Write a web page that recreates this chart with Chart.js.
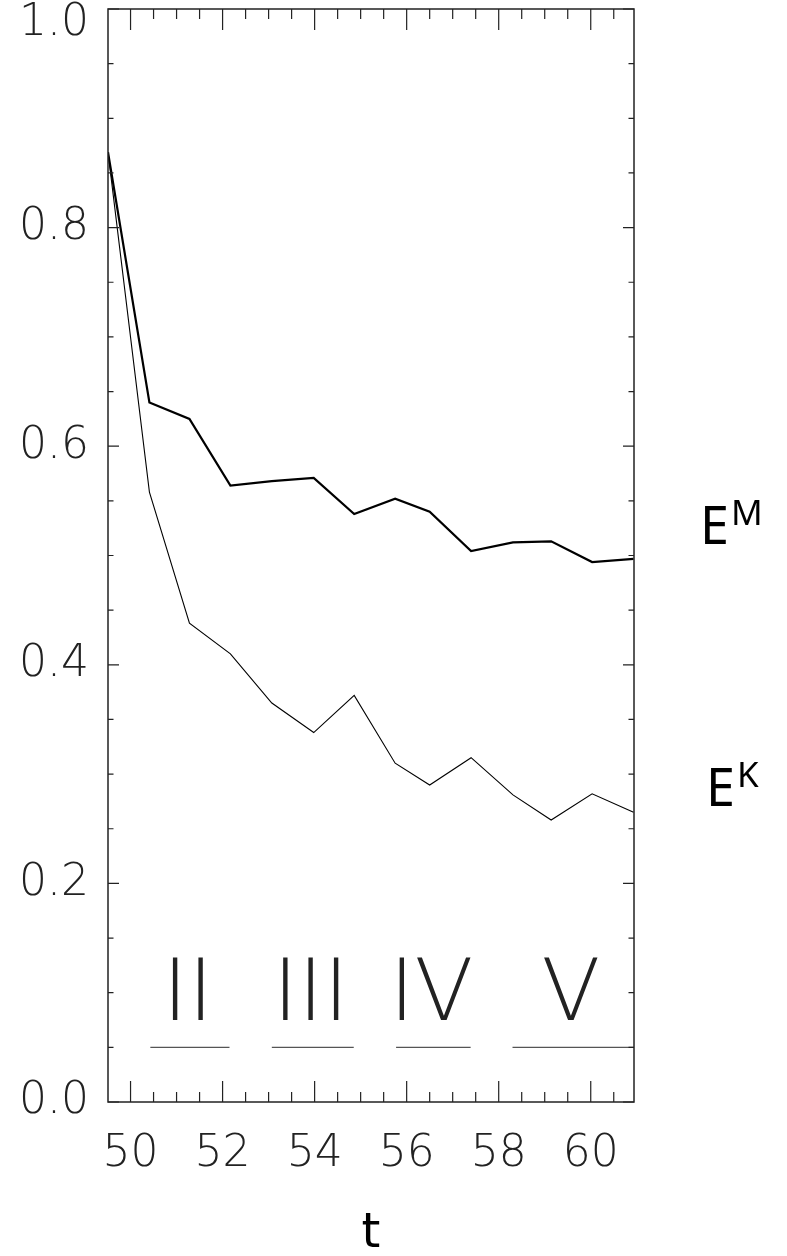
<!DOCTYPE html>
<html>
<head>
<meta charset="utf-8">
<script src="https://cdn.jsdelivr.net/npm/chart.js@4.4.1/dist/chart.umd.min.js"></script>
<style>
  html, body { margin: 0; padding: 0; background: #fff; }
  canvas { display: block; }
</style>
</head>
<body>
<canvas id="chart" width="787" height="1256"></canvas>
<script>
/* E^M / E^K versus t, stages II..V marked along the bottom. */
var T  = [49.51, 50.41, 51.28, 52.17, 53.07, 53.98, 54.86, 55.75, 56.50, 57.40, 58.31, 59.14, 60.03, 60.93];
var EM = [0.869, 0.640, 0.625, 0.564, 0.568, 0.571, 0.538, 0.552, 0.540, 0.504, 0.512, 0.513, 0.494, 0.497];
var EK = [0.869, 0.558, 0.438, 0.410, 0.365, 0.338, 0.372, 0.310, 0.290, 0.315, 0.281, 0.258, 0.282, 0.265];

var STAGES     = ["II", "III", "IV", "V"];
var STAGE_FROM = [50.43, 53.07, 55.77, 58.30];
var STAGE_TO   = [52.15, 54.85, 57.39, 60.93];
var STAGE_Y    = 0.05;

var X_TICKS = [50, 52, 54, 56, 58, 60];
var Y_TICKS = [0, 0.2, 0.4, 0.6, 0.8, 1.0];
var X_MINOR = 0.5, Y_MINOR = 0.05;
var X_MIN = 49.51, X_MAX = 60.94;

var INK = "#222";
var THIN = '"DejaVu Sans ExtraLight", "DejaVu Sans", sans-serif';

function pts(ys) {
  return T.map(function (t, i) { return { x: t, y: ys[i] }; });
}

var datasets = [
  { label: "EM", data: pts(EM), borderColor: "#000", borderWidth: 2.2 },
  { label: "EK", data: pts(EK), borderColor: "#000", borderWidth: 1.1 }
].concat(STAGES.map(function (s, i) {
  return {
    label: s, data: [{ x: STAGE_FROM[i], y: STAGE_Y }, { x: STAGE_TO[i], y: STAGE_Y }],
    borderColor: "#555", borderWidth: 1.4
  };
}));
datasets.forEach(function (d) { d.showLine = true; d.pointRadius = 0; d.fill = false; });

/* frame + inward ticks on all four sides, and the free text */
var framePlugin = {
  id: "frame",
  afterDraw: function (chart) {
    var ctx = chart.ctx, a = chart.chartArea;
    var xs = chart.scales.x, ys = chart.scales.y;
    ctx.save();
    ctx.strokeStyle = INK;
    ctx.lineWidth = 1.5;
    ctx.strokeRect(a.left, a.top, a.right - a.left, a.bottom - a.top);

    ctx.lineWidth = 1.2;
    ctx.beginPath();
    var v, p, len;
    for (v = Math.ceil(X_MIN / X_MINOR) * X_MINOR; v <= X_MAX; v += X_MINOR) {
      p = xs.getPixelForValue(v);
      len = Math.abs(v / 2 - Math.round(v / 2)) < 1e-6 ? 21 : 10;
      ctx.moveTo(p, a.bottom); ctx.lineTo(p, a.bottom - len);
      ctx.moveTo(p, a.top); ctx.lineTo(p, a.top + len);
    }
    for (v = 0; v <= 1.0001; v += Y_MINOR) {
      p = ys.getPixelForValue(v);
      len = Math.abs(v / 0.2 - Math.round(v / 0.2)) < 1e-6 ? 11 : 5.5;
      ctx.moveTo(a.left, p); ctx.lineTo(a.left + len, p);
      ctx.moveTo(a.right, p); ctx.lineTo(a.right - len, p);
    }
    ctx.stroke();

    // stage numerals above their bars
    ctx.fillStyle = INK;
    ctx.font = "200 86px " + THIN;
    ctx.textAlign = "center";
    ctx.textBaseline = "alphabetic";
    var yb = ys.getPixelForValue(STAGE_Y);
    STAGES.forEach(function (s, i) {
      var cx = (xs.getPixelForValue(STAGE_FROM[i]) + xs.getPixelForValue(STAGE_TO[i])) / 2;
      ctx.fillText(s, cx - 2, yb - 27);
    });

    // series names in the right margin
    ctx.fillStyle = "#000";
    ctx.textAlign = "left";
    function name(base, sup, x, y) {
      ctx.font = "52px 'Noto Sans', sans-serif";
      ctx.fillText(base, x, y);
      var w = ctx.measureText(base).width;
      ctx.font = "35px 'Noto Sans', sans-serif";
      ctx.fillText(sup, x + w + 2, y - 19);
    }
    name("E", "M", a.right + 66, 544);
    name("E", "K", a.right + 72, 806);
    ctx.restore();
  }
};

new Chart(document.getElementById("chart"), {
  type: "scatter",
  data: { datasets: datasets },
  options: {
    responsive: false,
    devicePixelRatio: 1,
    animation: false,
    layout: { autoPadding: false, padding: { left: 0, top: 9, right: 153, bottom: 0 } },
    plugins: { legend: { display: false }, tooltip: { enabled: false } },
    scales: {
      x: {
        type: "linear", min: X_MIN, max: X_MAX,
        afterBuildTicks: function (s) { s.ticks = X_TICKS.map(function (v) { return { value: v }; }); },
        afterFit: function (s) { s.height = 154; s.paddingLeft = 0; s.paddingRight = 0; },
        grid: { display: false, drawTicks: false },
        border: { display: false },
        ticks: {
          color: INK, padding: 26, maxRotation: 0, autoSkip: false,
          font: { family: THIN, size: 44, weight: 200 },
          callback: function (v) { return String(v); }
        },
        title: {
          display: true, text: "t", color: "#000", padding: 0,
          font: { family: "'DejaVu Sans', sans-serif", size: 48, lineHeight: 0.9 }
        }
      },
      y: {
        type: "linear", min: 0, max: 1,
        afterBuildTicks: function (s) { s.ticks = Y_TICKS.map(function (v) { return { value: v }; }); },
        afterFit: function (s) { s.width = 108; s.paddingTop = 0; s.paddingBottom = 0; },
        grid: { display: false, drawTicks: false },
        border: { display: false },
        ticks: {
          color: INK, padding: 19, autoSkip: false,
          font: { family: THIN, size: 44, weight: 200, lineHeight: 0.68 },
          callback: function (v) { return v === 1 ? ["", v.toFixed(1)] : v.toFixed(1); }
        }
      }
    }
  },
  plugins: [framePlugin]
});
</script>
</body>
</html>
